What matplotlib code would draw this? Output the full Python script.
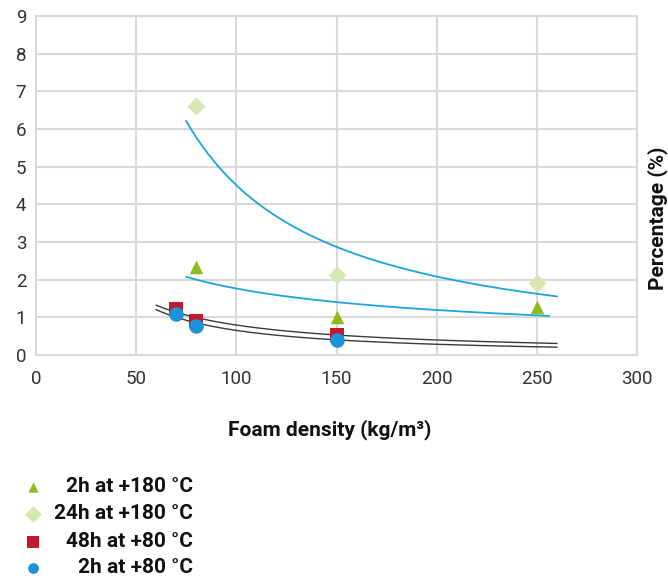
import numpy as np
import matplotlib
matplotlib.use("Agg")
import matplotlib.pyplot as plt

plt.rcParams['font.family'] = ['Roboto', 'DejaVu Sans']

# ---- data ----
x_2h180 = [80, 150, 250]
y_2h180 = [2.33, 1.0, 1.27]
x_24h180 = [80, 150, 250]
y_24h180 = [6.62, 2.12, 1.92]
x_48h80 = [70, 80, 150]
y_48h80 = [1.23, 0.9, 0.54]
x_2h80 = [70, 80, 150]
y_2h80 = [1.1, 0.76, 0.41]

labels = ["2h at +180 °C", "24h at +180 °C", "48h at +80 °C", "2h at +80 °C"]
xticks = [0, 50, 100, 150, 200, 250, 300]
yticks = list(range(0, 10))

c_tri = '#8fbc1c'
c_dia = '#d6e7b3'
c_sq = '#c01a2c'
c_cir = '#1b93d9'
c_trend = '#1ea3dd'
c_dark = '#3a3a3a'
c_grid = '#d9d9d9'

fig = plt.figure(figsize=(6.68, 5.79), dpi=100)
ax = fig.add_axes([36/668, 1-355/579, (637-36)/668, (355-16)/579])


def power_fit(xs, ys, x0, x1):
    b, lna = np.polyfit(np.log(xs), np.log(ys), 1)
    xx = np.linspace(x0, x1, 200)
    return xx, np.exp(lna) * xx ** b

# trend lines
xx, yy = power_fit(x_24h180, y_24h180, 75, 260)
ax.plot(xx, yy, color=c_trend, lw=1.3, zorder=3)
xx, yy = power_fit(x_2h180, y_2h180, 75, 256)
ax.plot(xx, yy, color=c_trend, lw=1.3, zorder=3)
xx, yy = power_fit(x_48h80, y_48h80, 60, 260)
ax.plot(xx, yy, color=c_dark, lw=1.0, zorder=3)
xx, yy = power_fit(x_2h80, y_2h80, 60, 260)
ax.plot(xx, yy, color=c_dark, lw=1.0, zorder=3)

ax.scatter(x_2h180, y_2h180, marker='^', s=95, color=c_tri, lw=0, zorder=4)
ax.scatter(x_24h180, y_24h180, marker='D', s=85, color=c_dia, lw=0, zorder=4)
ax.scatter(x_48h80, y_48h80, marker='s', s=110, color=c_sq, lw=0, zorder=4)
ax.scatter(x_2h80, y_2h80, marker='o', s=110, color=c_cir, lw=0, zorder=5)

ax.set_xlim(0, 300)
ax.set_ylim(0, 9)
ax.set_xticks(xticks)
ax.set_yticks(yticks)
ax.grid(True, color=c_grid, lw=1.5, zorder=0)
ax.set_axisbelow(True)
for s in ax.spines.values():
    s.set_color(c_grid)
    s.set_linewidth(1.5)
ax.tick_params(length=0, labelsize=13.5, labelcolor='#333333')
ax.tick_params(axis='x', pad=11)
ax.tick_params(axis='y', pad=7)

fig.text(330/668, 1-430/579, "Foam density (kg/m³)", ha='center', va='center',
         fontsize=15, fontweight='bold', color='#111111')
fig.text(658/668, 1-218/579, "Percentage (%)", ha='center', va='center',
         rotation=90, fontsize=15, fontweight='bold', color='#111111')

# legend
lax = fig.add_axes([0, 0, 1, 1 - 470/579])
lax.set_xlim(0, 668)
lax.set_ylim(579, 470)
lax.axis('off')
rows = [487, 514, 542, 568]
mk = [('^', c_tri, 55), ('D', c_dia, 75), ('s', c_sq, 70), ('o', c_cir, 60)]
for (m, c, s), ry, lab in zip(mk, rows, labels):
    lax.scatter([33], [ry], marker=m, s=s, color=c, lw=0)
    lax.text(193, ry, lab, ha='right', va='center', fontsize=15,
             fontweight='bold', color='#111111')

fig.savefig('out.png', dpi=100)
